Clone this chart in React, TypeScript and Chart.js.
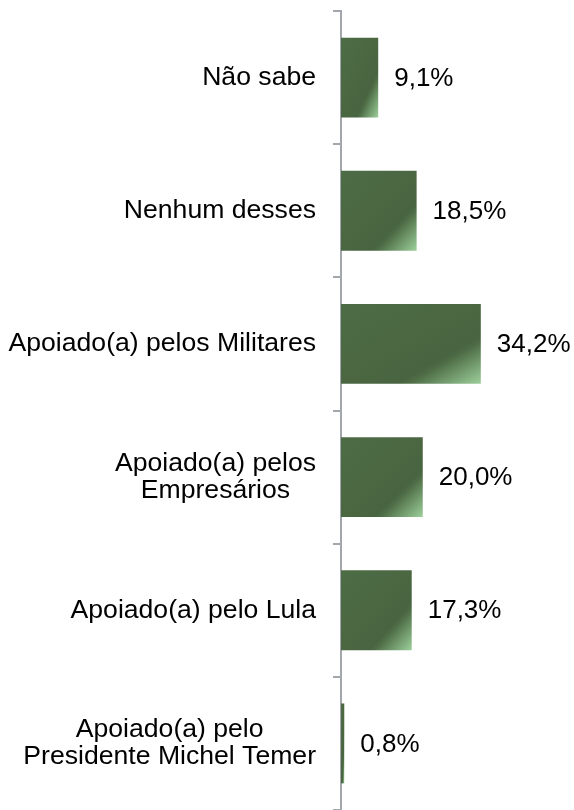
import React, { useEffect, useRef } from "react";
import { Chart, registerables } from "chart.js";

Chart.register(...registerables);

// ---- data ----
const categories: string[][] = [
  ["Não sabe"],
  ["Nenhum desses"],
  ["Apoiado(a) pelos Militares"],
  ["Apoiado(a) pelos", "Empresários"],
  ["Apoiado(a) pelo Lula"],
  ["Apoiado(a) pelo", "Presidente Michel Temer"],
];
const values: number[] = [9.1, 18.5, 34.2, 20.0, 17.3, 0.8];

// ---- style ----
const FONT_FAMILY = '"Liberation Sans", Arial, Helvetica, sans-serif';
const LABEL_SIZE = 26.6;
const VALUE_SIZE = 26;
const LINE_H = 27;
const AXIS_COLOR = "#a2a6ad";
const DARK = "#4a6740";

const fmt = (v: number) => v.toFixed(1).replace(".", ",") + "%";

const categoryLabelPlugin = {
  id: "categoryLabels",
  afterDraw(chart: any) {
    const ctx = chart.ctx;
    const ys = chart.scales.y;
    ctx.save();
    ctx.font = `${LABEL_SIZE}px ${FONT_FAMILY}`;
    ctx.fillStyle = "#000";
    ctx.textBaseline = "middle";
    ctx.textAlign = "center";
    const right = chart.chartArea.left - 25;
    categories.forEach((lines, i) => {
      const yc = ys.getPixelForValue(i);
      const maxW = Math.max(...lines.map((l) => ctx.measureText(l).width));
      const cx = right - maxW / 2;
      lines.forEach((l, j) => {
        ctx.fillText(l, cx, yc + (j - (lines.length - 1) / 2) * LINE_H);
      });
    });
    ctx.restore();
  },
};

const valueLabelPlugin = {
  id: "valueLabels",
  afterDatasetsDraw(chart: any) {
    const ctx = chart.ctx;
    const meta = chart.getDatasetMeta(0);
    ctx.save();
    ctx.font = `${VALUE_SIZE}px ${FONT_FAMILY}`;
    ctx.fillStyle = "#000";
    ctx.textBaseline = "middle";
    ctx.textAlign = "left";
    meta.data.forEach((el: any, i: number) => {
      ctx.fillText(fmt(values[i]), el.x + 16, el.y + 1);
    });
    ctx.restore();
  },
};

function barGradient(c: any) {
  const chart = c.chart;
  const xs = chart.scales?.x;
  const ys = chart.scales?.y;
  const i = c.dataIndex;
  if (!chart.chartArea || !xs || !ys || i === undefined) return DARK;
  const v = values[i];
  const x0 = xs.getPixelForValue(0);
  const x1 = xs.getPixelForValue(v);
  const yc = ys.getPixelForValue(i);
  const half = (ys.height / categories.length) * 0.6 / 2;
  const W = Math.max(x1 - x0, 1);
  const H = half * 2;
  const a = 1 / W;
  const b = 1 / H;
  const n = a * a + b * b;
  const top = yc - half;
  const g = chart.ctx.createLinearGradient(x0, top, x0 + (2 * a) / n, top + (2 * b) / n);
  g.addColorStop(0, "#4d6c45");
  g.addColorStop(0.5, "#4a6741");
  g.addColorStop(0.7, "#486441");
  g.addColorStop(0.74, "#4f6e47");
  g.addColorStop(1, "#9dd09b");
  return g;
}

export default function App() {
  const ref = useRef<HTMLCanvasElement | null>(null);

  useEffect(() => {
    if (!ref.current) return;
    const chart = new Chart(ref.current, {
      type: "bar",
      data: {
        labels: categories.map((l) => l.join(" ")),
        datasets: [
          {
            data: values,
            backgroundColor: barGradient as any,
            borderWidth: 0,
            barPercentage: 0.6,
            categoryPercentage: 1,
          },
        ],
      },
      options: {
        indexAxis: "y",
        responsive: false,
        animation: false,
        events: [],
        layout: { padding: { top: 11, bottom: 0, left: 0, right: 0 } },
        plugins: {
          legend: { display: false },
          tooltip: { enabled: false },
        },
        scales: {
          x: { display: false, min: 0, max: 57 },
          y: {
            type: "category",
            position: "left",
            offset: true,
            grid: {
              offset: true,
              drawOnChartArea: false,
              drawTicks: true,
              tickLength: 8,
              color: AXIS_COLOR,
              lineWidth: 2,
            },
            border: { display: true, color: AXIS_COLOR, width: 2 },
            ticks: { display: false },
            afterFit: (s: any) => {
              s.width = 341;
            },
          },
        },
      },
      plugins: [valueLabelPlugin, categoryLabelPlugin],
    });
    return () => chart.destroy();
  }, []);

  return (
    <div style={{ position: "fixed", left: 0, top: 0, width: 574, height: 810, background: "#fff" }}>
      <canvas ref={ref} width={574} height={810} style={{ display: "block" }} />
    </div>
  );
}
